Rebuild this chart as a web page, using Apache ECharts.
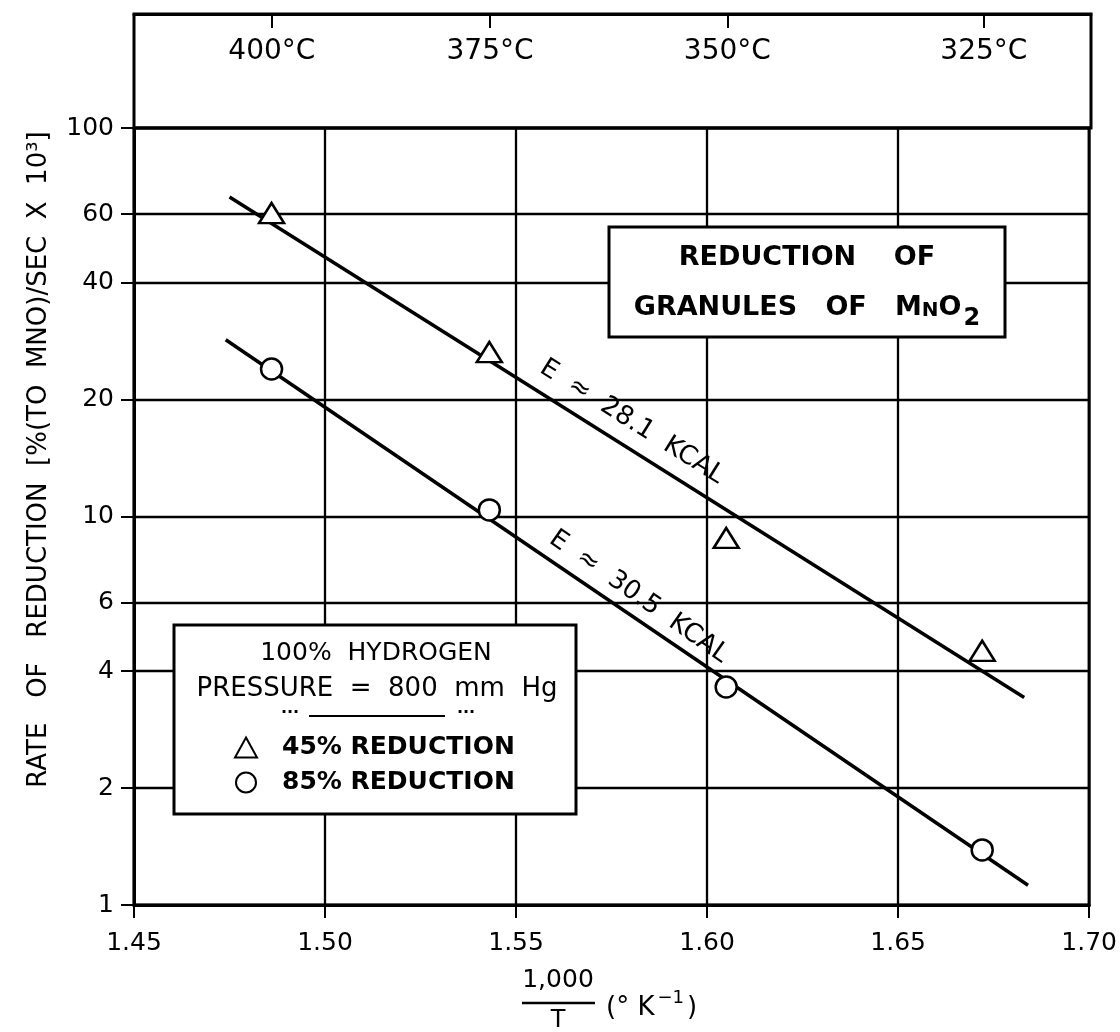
<!DOCTYPE html>
<html>
<head>
<meta charset="utf-8">
<script src="https://cdn.jsdelivr.net/npm/echarts@6/dist/echarts.min.js"></script>
<style>
  html, body { margin: 0; padding: 0; background: #fff; }
  #chart { width: 1120px; height: 1032px; }
</style>
</head>
<body>
<div id="chart"></div>
<script>
// ---- data ----
const tempLabels = ['400°C', '375°C', '350°C', '325°C'];
const tempInvT = [1.486, 1.543, 1.605, 1.672];
const yTickValues = [1, 2, 4, 6, 10, 20, 40, 60, 100];
const invT = [1.486, 1.543, 1.605, 1.672];
const rate45 = [60.4, 26.5, 8.81, 4.51];
const rate85 = [23.97, 10.4, 3.64, 1.386];
const fit45X = [1.475, 1.683];
const fit45Y = [66.4, 3.42];
const fit85X = [1.474, 1.684];
const fit85Y = [28.5, 1.124];
const seriesNames = ['45% REDUCTION', '85% REDUCTION'];
const fitLabels = ['E  ≈  28.1  KCAL', 'E  ≈  30.5  KCAL'];

const pairs = (xs, ys) => xs.map((x, i) => [x, ys[i]]);
const FONT = 'DejaVu Sans';

const chart = echarts.init(document.getElementById('chart'));
const option = {
  backgroundColor: '#fff',
  animation: false,
  textStyle: { fontFamily: FONT, color: '#000' },
  grid: [
    { left: 134, top: 128, width: 957, height: 777, show: true, borderColor: '#000', borderWidth: 3, backgroundColor: 'transparent' },
    { left: 134, top: 14, width: 957, height: 114, show: true, borderColor: '#000', borderWidth: 3, backgroundColor: 'transparent' }
  ],
  xAxis: [
    {
      gridIndex: 0, type: 'value', min: 1.45, max: 1.70, interval: 0.05,
      axisLine: { show: true, onZero: false, lineStyle: { color: '#000', width: 3 } },
      axisTick: { show: true, inside: false, length: 13, lineStyle: { color: '#000', width: 2 } },
      axisLabel: { fontSize: 25, color: '#000', margin: 26, formatter: v => v.toFixed(2) },
      splitLine: { show: true, lineStyle: { color: '#000', width: 2.3 } }
    },
    {
      gridIndex: 1, type: 'value', min: 1.45, max: 1.70, position: 'top',
      axisLine: { show: true, onZero: false, lineStyle: { color: '#000', width: 3 } },
      axisTick: { show: true, inside: true, length: 14, customValues: tempInvT, lineStyle: { color: '#000', width: 2 } },
      axisLabel: {
        show: true, inside: true, margin: 24, fontSize: 28, color: '#000', customValues: tempInvT,
        formatter: v => { const i = tempInvT.findIndex(t => Math.abs(t - v) < 1e-6); return i >= 0 ? tempLabels[i] : ''; }
      },
      splitLine: { show: false }
    }
  ],
  yAxis: [
    {
      gridIndex: 0, type: 'log', logBase: 10, min: 1, max: 100,
      axisLine: { show: true, onZero: false, lineStyle: { color: '#000', width: 3 } },
      axisTick: { show: true, length: 13, customValues: yTickValues, lineStyle: { color: '#000', width: 2 } },
      axisLabel: { fontSize: 25, color: '#000', margin: 20, customValues: yTickValues },
      splitLine: { show: true, lineStyle: { color: '#000', width: 2.3 } },
      minorTick: { show: false },
      name: 'RATE   OF   REDUCTION  [%(TO  MNO)/SEC  X  10³]',
      nameLocation: 'middle', nameRotate: 90, nameGap: 82,
      nameTextStyle: { fontSize: 26, color: '#000', padding: [0, 0, 0, 114] }
    },
    {
      gridIndex: 1, type: 'value', min: 0, max: 1, show: false
    }
  ],
  legend: {
    data: seriesNames,
    orient: 'vertical', left: 229, top: 730, itemGap: 10,
    itemWidth: 22, itemHeight: 20, z: 30,
    textStyle: { fontSize: 25, fontWeight: 'bold', color: '#000', fontFamily: FONT, padding: [0, 0, 0, 20] },
    selectedMode: false
  },
  graphic: [
    // title box
    { type: 'rect', z: 20, shape: { x: 609, y: 227, width: 396, height: 110 }, style: { fill: '#fff', stroke: '#000', lineWidth: 3 } },
    { type: 'text', z: 21, x: 807, y: 258, style: { text: 'REDUCTION    OF', font: 'bold 27px "DejaVu Sans"', fill: '#000', align: 'center', verticalAlign: 'middle' } },
    { type: 'text', z: 21, x: 807, y: 309, style: {
        text: '{b|GRANULES   OF   M}{n|N}{b|O}{s|2}', align: 'center', verticalAlign: 'middle',
        rich: {
          b: { fontFamily: FONT, fontWeight: 'bold', fontSize: 27, lineHeight: 30, fill: '#000', verticalAlign: 'top' },
          n: { fontFamily: FONT, fontWeight: 'bold', fontSize: 20, lineHeight: 30, fill: '#000', verticalAlign: 'top', padding: [7, 0, 0, 0] },
          s: { fontFamily: FONT, fontWeight: 'bold', fontSize: 24, lineHeight: 30, fill: '#000', verticalAlign: 'top', padding: [13, 0, 0, 2] }
        } } },
    // legend box
    { type: 'rect', z: 20, shape: { x: 174, y: 625, width: 402, height: 189 }, style: { fill: '#fff', stroke: '#000', lineWidth: 3 } },
    { type: 'text', z: 21, x: 376, y: 653, style: { text: '100%  HYDROGEN', font: '25px "DejaVu Sans"', fill: '#000', align: 'center', verticalAlign: 'middle' } },
    { type: 'text', z: 21, x: 377, y: 689, style: { text: 'PRESSURE  =  800  mm  Hg', font: '26px "DejaVu Sans"', fill: '#000', align: 'center', verticalAlign: 'middle' } },
    { type: 'text', z: 21, x: 290, y: 713, style: { text: '···', font: 'bold 16px "DejaVu Sans"', fill: '#000', align: 'center', verticalAlign: 'middle' } },
    { type: 'line', z: 21, shape: { x1: 309, y1: 716, x2: 445, y2: 716 }, style: { stroke: '#000', lineWidth: 2 } },
    { type: 'text', z: 21, x: 466, y: 713, style: { text: '···', font: 'bold 16px "DejaVu Sans"', fill: '#000', align: 'center', verticalAlign: 'middle' } },
    // x axis title
    { type: 'text', z: 21, x: 558, y: 980, style: { text: '1,000', font: '25px "DejaVu Sans"', fill: '#000', align: 'center', verticalAlign: 'middle' } },
    { type: 'line', z: 21, shape: { x1: 522, y1: 1003, x2: 595, y2: 1003 }, style: { stroke: '#000', lineWidth: 2.5 } },
    { type: 'text', z: 21, x: 558, y: 1021, style: { text: 'T', font: '24px "DejaVu Sans"', fill: '#000', align: 'center', verticalAlign: 'middle' } },
    { type: 'text', z: 21, x: 606, y: 1004, style: {
        text: '{a|(° K}{s|−1}{a|)}', align: 'left', verticalAlign: 'middle',
        rich: {
          a: { fontFamily: FONT, fontSize: 26, lineHeight: 30, fill: '#000', verticalAlign: 'top', padding: [6, 0, 0, 0] },
          s: { fontFamily: FONT, fontSize: 18, lineHeight: 20, fill: '#000', verticalAlign: 'top', padding: [0, 3, 0, 3] }
        } } }
  ],
  series: [
    {
      name: 'fit45', type: 'line', xAxisIndex: 0, yAxisIndex: 0, data: pairs(fit45X, fit45Y),
      symbol: 'none', lineStyle: { color: '#000', width: 3.5 }, z: 3, silent: true
    },
    {
      name: 'fit85', type: 'line', xAxisIndex: 0, yAxisIndex: 0, data: pairs(fit85X, fit85Y),
      symbol: 'none', lineStyle: { color: '#000', width: 3.5 }, z: 3, silent: true
    },
    {
      name: seriesNames[0], type: 'scatter', xAxisIndex: 0, yAxisIndex: 0, data: pairs(invT, rate45),
      symbol: 'triangle', symbolSize: [25, 20],
      itemStyle: { color: '#fff', borderColor: '#000', borderWidth: 2.5, opacity: 1 }, z: 5
    },
    {
      name: seriesNames[1], type: 'scatter', xAxisIndex: 0, yAxisIndex: 0, data: pairs(invT, rate85),
      symbol: 'circle', symbolSize: 21,
      itemStyle: { color: '#fff', borderColor: '#000', borderWidth: 2.5, opacity: 1 }, z: 5
    },
    {
      name: 'fitText', type: 'scatter', xAxisIndex: 0, yAxisIndex: 0, symbolSize: 0, silent: true, z: 6,
      itemStyle: { opacity: 1 },
      data: [
        { value: [1.5803, 17.51], label: { formatter: fitLabels[0], rotate: -32 } },
        { value: [1.5821, 6.21], label: { formatter: fitLabels[1], rotate: -35 } }
      ],
      label: { show: true, position: 'inside', fontSize: 26, color: '#000', fontFamily: FONT }
    }
  ]
};
chart.setOption(option);
</script>
</body>
</html>
